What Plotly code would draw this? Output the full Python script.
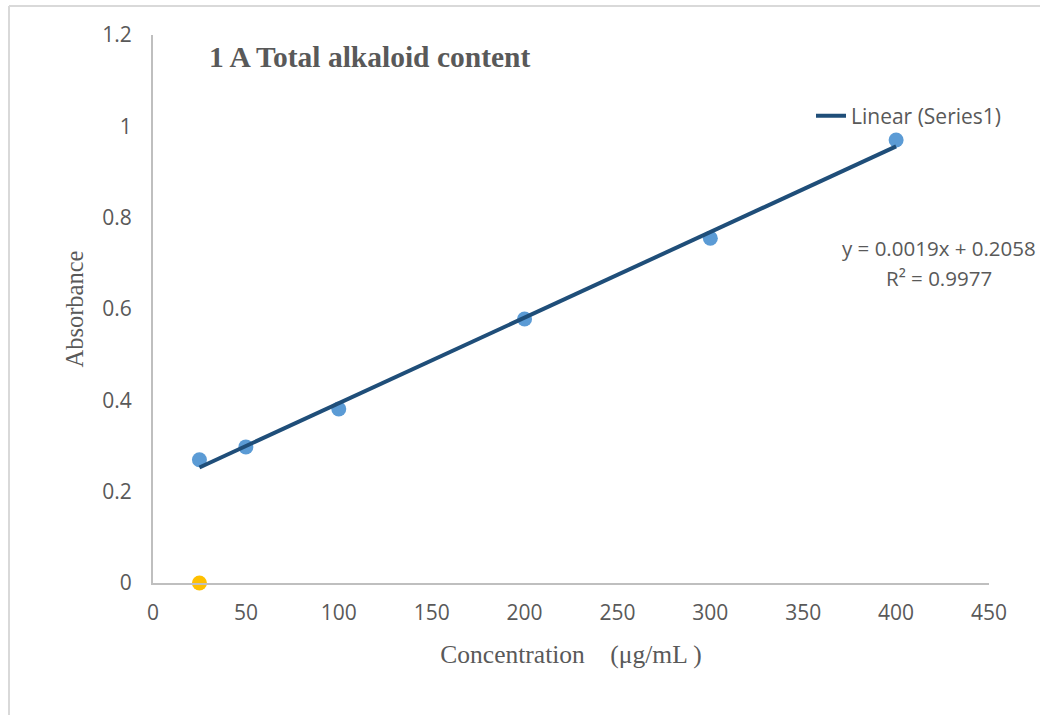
import numpy as np
import plotly.graph_objects as go

# Data
concentration = [25, 50, 100, 200, 300, 400]
absorbance = [0.27, 0.298, 0.381, 0.578, 0.755, 0.970]
blank_x = [25]
blank_y = [0]
x_ticks = [0, 50, 100, 150, 200, 250, 300, 350, 400, 450]
y_ticks = [0, 0.2, 0.4, 0.6, 0.8, 1, 1.2]
equation_line = "y = 0.0019x + 0.2058"
r2_line = "R² = 0.9977"
title_text = "1 A Total alkaloid content"

W, H = 1040, 715
ML, MR, MT, MB = 153, 51, 35, 132
PW, PH = W - ML - MR, H - MT - MB

def px(x):
    return (x - ML) / PW

def py(y):
    return (H - MB - y) / PH

slope, intercept = np.polyfit(concentration, absorbance, 1)
fit_x = [min(concentration), max(concentration)]
fit_y = [slope * v + intercept for v in fit_x]

grey = "#595959"
sans = "Open Sans"
serif = "Liberation Serif"

fig = go.Figure()
fig.add_trace(go.Scatter(
    x=concentration, y=absorbance, mode="markers",
    marker=dict(color="#5B9BD5", size=15), name="Series1", showlegend=False,
    cliponaxis=False))
fig.add_trace(go.Scatter(
    x=blank_x, y=blank_y, mode="markers",
    marker=dict(color="#FFC000", size=15), name="Series2", showlegend=False,
    cliponaxis=False))
fig.add_trace(go.Scatter(
    x=fit_x, y=fit_y, mode="lines",
    line=dict(color="#1F4E79", width=4), name="Linear (Series1)",
    showlegend=True))

ann_font = dict(family=sans, size=20.5, color=grey)

fig.update_layout(
    width=W, height=H,
    margin=dict(l=ML, r=MR, t=MT, b=MB, autoexpand=False),
    paper_bgcolor="white", plot_bgcolor="white",
    showlegend=True,
    legend=dict(x=px(811), y=py(116), xanchor="left", yanchor="middle",
                font=dict(family=sans, size=21, color=grey),
                bgcolor="rgba(0,0,0,0)"),
    title=dict(text="<b>" + title_text + "</b>", x=209 / W, xanchor="left",
               y=1 - 57 / H, yanchor="middle",
               font=dict(family=serif, size=29.5, color=grey)),
    xaxis=dict(range=[0, 450], tickvals=x_ticks, showgrid=False, zeroline=False,
               showline=True, linecolor="#BFBFBF", linewidth=2, ticks="",
               ticklabelstandoff=10,
               tickfont=dict(family=sans, size=21, color=grey),
               title=dict(text="Concentration\u2003(μg/mL )", standoff=20,
                          font=dict(family=serif, size=25.5, color=grey))),
    yaxis=dict(range=[0, 1.2], tickvals=y_ticks, showgrid=False, zeroline=False,
               showline=True, linecolor="#BFBFBF", linewidth=2, ticks="",
               ticklabelstandoff=15,
               tickfont=dict(family=sans, size=21, color=grey),
               title=dict(text="Absorbance", standoff=12,
                          font=dict(family=serif, size=24.5, color=grey))),
    annotations=[
        dict(text=equation_line, x=px(939), y=py(248), xref="paper",
             yref="paper", xanchor="center", yanchor="middle",
             showarrow=False, font=ann_font),
        dict(text=r2_line, x=px(939), y=py(278), xref="paper",
             yref="paper", xanchor="center", yanchor="middle",
             showarrow=False, font=ann_font),
    ],
    shapes=[
        dict(type="line", xref="paper", yref="paper", x0=px(9), x1=px(1040),
             y0=py(6), y1=py(6), line=dict(color="#D9D9D9", width=2)),
        dict(type="line", xref="paper", yref="paper", x0=px(9), x1=px(9),
             y0=py(6), y1=py(715), line=dict(color="#D9D9D9", width=2)),
    ],
)

fig.write_html("out.html",
               config={"displayModeBar": False},
               post_script="document.body.style.margin='0';"
                           "document.body.style.padding='0';")
